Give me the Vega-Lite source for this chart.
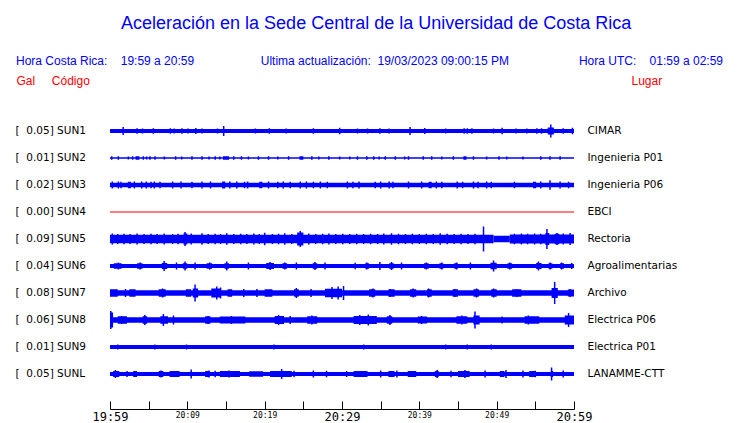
{
"$schema":"https://vega.github.io/schema/vega-lite/v6.json",
"width":464,"height":270,
"autosize":"none",
"padding":{"left":110,"top":117.5,"right":166,"bottom":35.5},
"background":"white",
"title":{"text":"\u200b\u00a0\u00a0\u00a0\u00a0\u00a0\u00a0\u00a0\u00a0\u00a0\u00a0\u00a0\u00a0\u00a0\u00a0\u00a0\u00a0\u00a0\u00a0\u00a0\u00a0\u00a0Aceleración en la Sede Central de la Universidad de Costa Rica",
"subtitle":"Hora Costa Rica:\u00a0\u00a0\u00a0\u00a019:59 a 20:59\u00a0\u00a0\u00a0\u00a0\u00a0\u00a0\u00a0\u00a0\u00a0\u00a0\u00a0\u00a0\u00a0\u00a0\u00a0\u00a0\u00a0\u00a0\u00a0\u00a0Ultima actualización:\u00a0\u00a019/03/2023 09:00:15 PM\u00a0\u00a0\u00a0\u00a0\u00a0\u00a0\u00a0\u00a0\u00a0\u00a0\u00a0\u00a0\u00a0\u00a0\u00a0\u00a0\u00a0\u00a0\u00a0\u00a0\u00a0Hora UTC:\u00a0\u00a0\u00a0\u00a001:59 a 02:59",
"anchor":"start","frame":"group","dx":-94,"offset":8,
"font":"Liberation Sans","fontSize":18,"fontWeight":"normal","color":"#0000ff",
"subtitleFont":"Liberation Sans","subtitleFontSize":12,"subtitleColor":"#0000ff","subtitlePadding":23},
"datasets":{
"bases":[
{"s":"SUN1","t0":0,"t1":60,"a":4},{"s":"SUN1","t0":56.6,"t1":57.4,"a":7},
{"s":"SUN2","t0":0,"t1":60,"a":1.5},{"s":"SUN2","t0":14.6,"t1":15.4,"a":3.5},{"s":"SUN2","t0":24.5,"t1":25.0,"a":3.5},{"s":"SUN2","t0":45.7,"t1":46.1,"a":3.5},{"s":"SUN2","t0":3.3,"t1":3.8,"a":3.5},
{"s":"SUN3","t0":0,"t1":60,"a":4.5},{"s":"SUN3","t0":2.3,"t1":2.7,"a":6.5},{"s":"SUN3","t0":14.5,"t1":14.9,"a":7},{"s":"SUN3","t0":19.3,"t1":19.7,"a":6.5},{"s":"SUN3","t0":41.2,"t1":41.6,"a":6.5},{"s":"SUN3","t0":54.7,"t1":55.1,"a":6.5},
{"s":"SUN4","t0":0,"t1":60,"a":1},
{"s":"SUN5","t0":0,"t1":49.6,"a":8.5},{"s":"SUN5","t0":49.6,"t1":51.7,"a":6.5},{"s":"SUN5","t0":51.7,"t1":60,"a":9},{"s":"SUN5","t0":24.2,"t1":25.0,"a":13},{"s":"SUN5","t0":9.5,"t1":10.0,"a":11},{"s":"SUN5","t0":56.3,"t1":56.8,"a":12},{"s":"SUN5","t0":57.5,"t1":58.1,"a":10.5},
{"s":"SUN6","t0":0,"t1":60,"a":4},{"s":"SUN6","t0":0.5,"t1":1.5,"a":5.5},{"s":"SUN6","t0":3.5,"t1":4.2,"a":5.5},{"s":"SUN6","t0":6.7,"t1":7.4,"a":6},{"s":"SUN6","t0":9.4,"t1":10,"a":5.5},{"s":"SUN6","t0":12.5,"t1":13.2,"a":5.5},{"s":"SUN6","t0":14.8,"t1":15.4,"a":5.5},{"s":"SUN6","t0":20.2,"t1":21.2,"a":6},{"s":"SUN6","t0":22.3,"t1":22.9,"a":5.5},{"s":"SUN6","t0":26.2,"t1":26.8,"a":5.5},{"s":"SUN6","t0":33,"t1":33.5,"a":5.5},{"s":"SUN6","t0":36.1,"t1":36.7,"a":5.5},{"s":"SUN6","t0":40.6,"t1":41.2,"a":5.5},{"s":"SUN6","t0":42.6,"t1":43.1,"a":5.5},{"s":"SUN6","t0":44.5,"t1":45,"a":5.5},{"s":"SUN6","t0":49.2,"t1":50,"a":6.5},{"s":"SUN6","t0":51.4,"t1":52,"a":5.5},{"s":"SUN6","t0":55.1,"t1":55.8,"a":6},{"s":"SUN6","t0":56.7,"t1":57.2,"a":5.5},{"s":"SUN6","t0":58.2,"t1":58.7,"a":5.5},
{"s":"SUN7","t0":0,"t1":60,"a":5.5},{"s":"SUN7","t0":0,"t1":1,"a":7.5},{"s":"SUN7","t0":2.5,"t1":3.3,"a":7.5},{"s":"SUN7","t0":6.3,"t1":7.2,"a":7.5},{"s":"SUN7","t0":9.8,"t1":10.5,"a":7.5},{"s":"SUN7","t0":10.7,"t1":11.4,"a":9},{"s":"SUN7","t0":13.1,"t1":14.3,"a":9},{"s":"SUN7","t0":15.2,"t1":15.8,"a":7.5},{"s":"SUN7","t0":20,"t1":21,"a":7.5},{"s":"SUN7","t0":23.8,"t1":24.4,"a":7.5},{"s":"SUN7","t0":27.8,"t1":30,"a":8.5},{"s":"SUN7","t0":33.5,"t1":34.3,"a":7.5},{"s":"SUN7","t0":36,"t1":36.8,"a":7.5},{"s":"SUN7","t0":38.8,"t1":39.6,"a":7.5},{"s":"SUN7","t0":41,"t1":41.6,"a":7.5},{"s":"SUN7","t0":44.3,"t1":45,"a":7.5},{"s":"SUN7","t0":47,"t1":47.7,"a":7.5},{"s":"SUN7","t0":49.3,"t1":50,"a":7.5},{"s":"SUN7","t0":52,"t1":53.2,"a":7.5},{"s":"SUN7","t0":57.1,"t1":57.9,"a":10},{"s":"SUN7","t0":59.2,"t1":60,"a":7},
{"s":"SUN8","t0":0,"t1":60,"a":5.5},{"s":"SUN8","t0":0,"t1":0.4,"a":15},{"s":"SUN8","t0":1,"t1":2.2,"a":7.5},{"s":"SUN8","t0":4.2,"t1":4.8,"a":7.5},{"s":"SUN8","t0":6.5,"t1":7.5,"a":7.5},{"s":"SUN8","t0":12.3,"t1":13,"a":7.5},{"s":"SUN8","t0":14.2,"t1":17.5,"a":7},{"s":"SUN8","t0":21.3,"t1":22.5,"a":8},{"s":"SUN8","t0":25.5,"t1":26.8,"a":7.5},{"s":"SUN8","t0":31.5,"t1":34.5,"a":8},{"s":"SUN8","t0":35.8,"t1":36.5,"a":7.5},{"s":"SUN8","t0":39.8,"t1":41,"a":7},{"s":"SUN8","t0":44.8,"t1":46.2,"a":7.5},{"s":"SUN8","t0":47,"t1":47.8,"a":9},{"s":"SUN8","t0":53.6,"t1":55.5,"a":7.5},{"s":"SUN8","t0":58.8,"t1":60,"a":9},
{"s":"SUN9","t0":0,"t1":60,"a":4},
{"s":"SUNL","t0":0,"t1":60,"a":4},{"s":"SUNL","t0":0.4,"t1":1.2,"a":6},{"s":"SUNL","t0":3,"t1":3.5,"a":6},{"s":"SUNL","t0":6.3,"t1":6.9,"a":6},{"s":"SUNL","t0":7.7,"t1":9,"a":6},{"s":"SUNL","t0":12.3,"t1":12.9,"a":6},{"s":"SUNL","t0":14.2,"t1":16.8,"a":6},{"s":"SUNL","t0":18,"t1":19.8,"a":5.5},{"s":"SUNL","t0":20.7,"t1":23.5,"a":6},{"s":"SUNL","t0":31.5,"t1":33.3,"a":6},{"s":"SUNL","t0":36,"t1":36.8,"a":6},{"s":"SUNL","t0":38.5,"t1":39.6,"a":6},{"s":"SUNL","t0":42,"t1":42.5,"a":6},{"s":"SUNL","t0":45,"t1":46.5,"a":6},{"s":"SUNL","t0":50.4,"t1":51,"a":6},{"s":"SUNL","t0":54.2,"t1":55,"a":6},{"s":"SUNL","t0":57,"t1":57.3,"a":6}
],
"spikes":[
{"s":"SUN1","t":1.7,"a":8},{"s":"SUN1","t":3.5,"a":5.5},{"s":"SUN1","t":4.2,"a":5},{"s":"SUN1","t":5.6,"a":5.5},{"s":"SUN1","t":7.8,"a":5.5},{"s":"SUN1","t":8.3,"a":5},{"s":"SUN1","t":9.3,"a":5.5},{"s":"SUN1","t":10.1,"a":5},{"s":"SUN1","t":11.1,"a":6},{"s":"SUN1","t":11.9,"a":5},{"s":"SUN1","t":13.9,"a":5},{"s":"SUN1","t":14.7,"a":10},{"s":"SUN1","t":18.8,"a":5},{"s":"SUN1","t":20.6,"a":5.5},{"s":"SUN1","t":22.8,"a":5},{"s":"SUN1","t":26.3,"a":5.5},{"s":"SUN1","t":29.7,"a":6.5},{"s":"SUN1","t":32.0,"a":5},{"s":"SUN1","t":33.3,"a":5},{"s":"SUN1","t":34.9,"a":5.5},{"s":"SUN1","t":36.1,"a":5},{"s":"SUN1","t":38.8,"a":8},{"s":"SUN1","t":40.7,"a":6},{"s":"SUN1","t":43.4,"a":5},{"s":"SUN1","t":45.8,"a":5.5},{"s":"SUN1","t":46.2,"a":5.5},{"s":"SUN1","t":46.8,"a":5.5},{"s":"SUN1","t":49.6,"a":5},{"s":"SUN1","t":50.7,"a":6.5},{"s":"SUN1","t":52.5,"a":5},{"s":"SUN1","t":53.9,"a":5},{"s":"SUN1","t":55.2,"a":5.5},{"s":"SUN1","t":55.8,"a":5.5},{"s":"SUN1","t":57.0,"a":13},{"s":"SUN1","t":58.6,"a":5.5},{"s":"SUN1","t":59.8,"a":6.5},
{"s":"SUN2","t":0.22,"a":3.5},{"s":"SUN2","t":1.08,"a":3.5},{"s":"SUN2","t":2.37,"a":3},{"s":"SUN2","t":2.93,"a":3.5},{"s":"SUN2","t":4.31,"a":3.5},{"s":"SUN2","t":4.74,"a":3},{"s":"SUN2","t":5.17,"a":3.5},{"s":"SUN2","t":5.82,"a":3.5},{"s":"SUN2","t":7.03,"a":3},{"s":"SUN2","t":8.49,"a":3.5},{"s":"SUN2","t":9.27,"a":3},{"s":"SUN2","t":10.6,"a":3.5},{"s":"SUN2","t":11.9,"a":3.5},{"s":"SUN2","t":12.8,"a":3},{"s":"SUN2","t":13.6,"a":3.5},{"s":"SUN2","t":14.2,"a":3},{"s":"SUN2","t":16.0,"a":3.5},{"s":"SUN2","t":17.0,"a":3.5},{"s":"SUN2","t":17.9,"a":3},{"s":"SUN2","t":19.2,"a":3.5},{"s":"SUN2","t":20.5,"a":3.5},{"s":"SUN2","t":21.7,"a":3},{"s":"SUN2","t":23.1,"a":3.5},{"s":"SUN2","t":26.1,"a":3.5},{"s":"SUN2","t":27.0,"a":3},{"s":"SUN2","t":28.3,"a":3.5},{"s":"SUN2","t":29.7,"a":3},{"s":"SUN2","t":31.0,"a":3},{"s":"SUN2","t":32.0,"a":3.5},{"s":"SUN2","t":33.2,"a":3.5},{"s":"SUN2","t":34.1,"a":3.5},{"s":"SUN2","t":34.8,"a":3},{"s":"SUN2","t":35.6,"a":3.5},{"s":"SUN2","t":36.9,"a":3.5},{"s":"SUN2","t":38.1,"a":3},{"s":"SUN2","t":38.6,"a":3.5},{"s":"SUN2","t":40.5,"a":3.5},{"s":"SUN2","t":41.6,"a":3.5},{"s":"SUN2","t":42.9,"a":3},{"s":"SUN2","t":44.4,"a":3.5},{"s":"SUN2","t":47.0,"a":3.5},{"s":"SUN2","t":48.7,"a":3},{"s":"SUN2","t":50.3,"a":3.5},{"s":"SUN2","t":51.3,"a":3},{"s":"SUN2","t":53.4,"a":3},{"s":"SUN2","t":55.7,"a":3.5},{"s":"SUN2","t":56.9,"a":3.5},{"s":"SUN2","t":58.2,"a":3.5},
{"s":"SUN3","t":0.3,"a":7},{"s":"SUN3","t":1.08,"a":7},{"s":"SUN3","t":1.42,"a":6.5},{"s":"SUN3","t":3.15,"a":7},{"s":"SUN3","t":4.1,"a":7},{"s":"SUN3","t":4.7,"a":7},{"s":"SUN3","t":5.3,"a":6.5},{"s":"SUN3","t":5.73,"a":7},{"s":"SUN3","t":6.47,"a":6.5},{"s":"SUN3","t":8.1,"a":7},{"s":"SUN3","t":9.18,"a":7},{"s":"SUN3","t":10.6,"a":6.5},{"s":"SUN3","t":11.9,"a":7},{"s":"SUN3","t":13.0,"a":7},{"s":"SUN3","t":15.5,"a":7},{"s":"SUN3","t":16.4,"a":7},{"s":"SUN3","t":17.4,"a":6.5},{"s":"SUN3","t":17.8,"a":7},{"s":"SUN3","t":20.5,"a":7},{"s":"SUN3","t":21.7,"a":6.5},{"s":"SUN3","t":22.4,"a":7},{"s":"SUN3","t":23.3,"a":6.5},{"s":"SUN3","t":24.6,"a":7},{"s":"SUN3","t":25.4,"a":7},{"s":"SUN3","t":26.3,"a":6.5},{"s":"SUN3","t":27.2,"a":7},{"s":"SUN3","t":28.1,"a":6.5},{"s":"SUN3","t":30.7,"a":7},{"s":"SUN3","t":31.4,"a":6.5},{"s":"SUN3","t":32.2,"a":7},{"s":"SUN3","t":34.3,"a":6.5},{"s":"SUN3","t":35.0,"a":7},{"s":"SUN3","t":36.1,"a":7},{"s":"SUN3","t":36.6,"a":6.5},{"s":"SUN3","t":38.6,"a":7},{"s":"SUN3","t":40.3,"a":7},{"s":"SUN3","t":42.2,"a":7},{"s":"SUN3","t":42.9,"a":6.5},{"s":"SUN3","t":44.9,"a":7},{"s":"SUN3","t":45.6,"a":6.5},{"s":"SUN3","t":47.0,"a":7},{"s":"SUN3","t":47.6,"a":6.5},{"s":"SUN3","t":48.7,"a":7},{"s":"SUN3","t":49.3,"a":6.5},{"s":"SUN3","t":52.3,"a":6.5},{"s":"SUN3","t":55.7,"a":7},{"s":"SUN3","t":56.9,"a":9.5},{"s":"SUN3","t":58.2,"a":7},{"s":"SUN3","t":59.3,"a":6.5},
{"s":"SUN5","t":0.3,"a":11},{"s":"SUN5","t":1.0,"a":10},{"s":"SUN5","t":1.8,"a":10.5},{"s":"SUN5","t":2.6,"a":10},{"s":"SUN5","t":3.5,"a":11},{"s":"SUN5","t":4.4,"a":10},{"s":"SUN5","t":5.3,"a":10.5},{"s":"SUN5","t":6.1,"a":10},{"s":"SUN5","t":7.0,"a":11},{"s":"SUN5","t":8.1,"a":10},{"s":"SUN5","t":8.8,"a":10.5},{"s":"SUN5","t":9.7,"a":14},{"s":"SUN5","t":10.5,"a":11},{"s":"SUN5","t":11.9,"a":11.5},{"s":"SUN5","t":12.7,"a":10},{"s":"SUN5","t":13.6,"a":10.5},{"s":"SUN5","t":14.3,"a":10},{"s":"SUN5","t":15.1,"a":11.5},{"s":"SUN5","t":16.0,"a":10},{"s":"SUN5","t":16.9,"a":10.5},{"s":"SUN5","t":17.7,"a":10},{"s":"SUN5","t":18.6,"a":11},{"s":"SUN5","t":19.3,"a":10},{"s":"SUN5","t":20.0,"a":12.5},{"s":"SUN5","t":21.0,"a":10},{"s":"SUN5","t":21.8,"a":10.5},{"s":"SUN5","t":22.6,"a":11.5},{"s":"SUN5","t":23.5,"a":10},{"s":"SUN5","t":24.6,"a":16},{"s":"SUN5","t":25.7,"a":11},{"s":"SUN5","t":26.6,"a":10},{"s":"SUN5","t":27.5,"a":10.5},{"s":"SUN5","t":28.3,"a":11},{"s":"SUN5","t":29.2,"a":10},{"s":"SUN5","t":30.1,"a":10.5},{"s":"SUN5","t":31.0,"a":10},{"s":"SUN5","t":31.9,"a":10.5},{"s":"SUN5","t":32.8,"a":10},{"s":"SUN5","t":33.7,"a":10.5},{"s":"SUN5","t":34.6,"a":10},{"s":"SUN5","t":35.4,"a":11},{"s":"SUN5","t":36.4,"a":11.5},{"s":"SUN5","t":37.3,"a":10.5},{"s":"SUN5","t":38.2,"a":10},{"s":"SUN5","t":39.1,"a":10.5},{"s":"SUN5","t":40.0,"a":10},{"s":"SUN5","t":40.9,"a":10.5},{"s":"SUN5","t":41.8,"a":10},{"s":"SUN5","t":42.7,"a":11.5},{"s":"SUN5","t":43.6,"a":10.5},{"s":"SUN5","t":44.5,"a":10},{"s":"SUN5","t":45.4,"a":10.5},{"s":"SUN5","t":46.3,"a":10},{"s":"SUN5","t":47.2,"a":10.5},{"s":"SUN5","t":48.3,"a":25},{"s":"SUN5","t":52.3,"a":10.5},{"s":"SUN5","t":53.2,"a":11},{"s":"SUN5","t":54.0,"a":10.5},{"s":"SUN5","t":54.9,"a":11},{"s":"SUN5","t":55.7,"a":10.5},{"s":"SUN5","t":56.5,"a":20},{"s":"SUN5","t":57.8,"a":12},{"s":"SUN5","t":58.6,"a":11},{"s":"SUN5","t":59.5,"a":12},
{"s":"SUN6","t":1.08,"a":7},{"s":"SUN6","t":3.88,"a":7},{"s":"SUN6","t":7.0,"a":10},{"s":"SUN6","t":8.6,"a":7},{"s":"SUN6","t":9.7,"a":9},{"s":"SUN6","t":11.0,"a":7},{"s":"SUN6","t":12.9,"a":7},{"s":"SUN6","t":15.1,"a":9},{"s":"SUN6","t":17.9,"a":7},{"s":"SUN6","t":20.7,"a":8},{"s":"SUN6","t":22.6,"a":7},{"s":"SUN6","t":24.1,"a":7},{"s":"SUN6","t":26.5,"a":8},{"s":"SUN6","t":27.8,"a":7},{"s":"SUN6","t":31.7,"a":6.5},{"s":"SUN6","t":33.2,"a":7},{"s":"SUN6","t":34.9,"a":8},{"s":"SUN6","t":36.4,"a":8},{"s":"SUN6","t":37.7,"a":7},{"s":"SUN6","t":40.9,"a":7},{"s":"SUN6","t":42.9,"a":7},{"s":"SUN6","t":44.8,"a":7},{"s":"SUN6","t":46.6,"a":7},{"s":"SUN6","t":49.6,"a":11},{"s":"SUN6","t":51.7,"a":7},{"s":"SUN6","t":55.4,"a":9},{"s":"SUN6","t":56.9,"a":7},{"s":"SUN6","t":58.4,"a":7},{"s":"SUN6","t":59.7,"a":6},
{"s":"SUN7","t":2.0,"a":8},{"s":"SUN7","t":6.8,"a":9},{"s":"SUN7","t":11.0,"a":17},{"s":"SUN7","t":13.8,"a":13},{"s":"SUN7","t":14.3,"a":11},{"s":"SUN7","t":17.3,"a":8},{"s":"SUN7","t":19.0,"a":8},{"s":"SUN7","t":24.1,"a":10},{"s":"SUN7","t":26.0,"a":8},{"s":"SUN7","t":28.7,"a":12},{"s":"SUN7","t":29.5,"a":13},{"s":"SUN7","t":30.2,"a":14},{"s":"SUN7","t":34.0,"a":9},{"s":"SUN7","t":36.2,"a":8},{"s":"SUN7","t":39.2,"a":9},{"s":"SUN7","t":41.2,"a":9},{"s":"SUN7","t":44.6,"a":8},{"s":"SUN7","t":47.4,"a":9},{"s":"SUN7","t":49.6,"a":9},{"s":"SUN7","t":52.6,"a":8},{"s":"SUN7","t":57.5,"a":22},{"s":"SUN7","t":59.5,"a":8},
{"s":"SUN8","t":0.1,"a":18},{"s":"SUN8","t":1.5,"a":8},{"s":"SUN8","t":4.5,"a":10},{"s":"SUN8","t":6.9,"a":12},{"s":"SUN8","t":8.2,"a":9},{"s":"SUN8","t":12.7,"a":8},{"s":"SUN8","t":15.7,"a":8},{"s":"SUN8","t":21.8,"a":10},{"s":"SUN8","t":23.3,"a":8},{"s":"SUN8","t":26.1,"a":9},{"s":"SUN8","t":32.3,"a":10},{"s":"SUN8","t":33.4,"a":11},{"s":"SUN8","t":36.2,"a":10},{"s":"SUN8","t":40.3,"a":8},{"s":"SUN8","t":45.5,"a":9},{"s":"SUN8","t":47.2,"a":17},{"s":"SUN8","t":50.7,"a":7},{"s":"SUN8","t":54.1,"a":9},{"s":"SUN8","t":59.3,"a":14},
{"s":"SUN9","t":1.0,"a":5},{"s":"SUN9","t":5.8,"a":5},{"s":"SUN9","t":9.9,"a":5},{"s":"SUN9","t":21.2,"a":5},{"s":"SUN9","t":32.8,"a":5},{"s":"SUN9","t":43.4,"a":5},{"s":"SUN9","t":46.2,"a":5},{"s":"SUN9","t":49.3,"a":5},
{"s":"SUNL","t":0.7,"a":8},{"s":"SUNL","t":2.2,"a":6},{"s":"SUNL","t":6.6,"a":7},{"s":"SUNL","t":10.5,"a":9},{"s":"SUNL","t":12.8,"a":7},{"s":"SUNL","t":13.6,"a":6.5},{"s":"SUNL","t":15.4,"a":7},{"s":"SUNL","t":22.2,"a":10},{"s":"SUNL","t":23.8,"a":6.5},{"s":"SUNL","t":26.3,"a":7},{"s":"SUNL","t":28.0,"a":6.5},{"s":"SUNL","t":30.6,"a":6},{"s":"SUNL","t":35.0,"a":7},{"s":"SUNL","t":37.1,"a":7},{"s":"SUNL","t":42.3,"a":8},{"s":"SUNL","t":44.1,"a":6.5},{"s":"SUNL","t":45.9,"a":8},{"s":"SUNL","t":48.5,"a":7},{"s":"SUNL","t":51.2,"a":8},{"s":"SUNL","t":53.4,"a":7},{"s":"SUNL","t":55.0,"a":6.5},{"s":"SUNL","t":57.1,"a":13},{"s":"SUNL","t":58.6,"a":7}
]},
"layer":[
{"data":{"name":"bases"},
"mark":{"type":"bar","orient":"horizontal"},
"encoding":{
"x":{"field":"t0","type":"quantitative","scale":{"domain":[0,60],"nice":false,"zero":false},
"axis":{"orient":"bottom","offset":13.5,"values":[0,5,10,15,20,25,30,35,40,45,50,55,60],"tickSize":8,"tickColor":"black","domain":false,"labels":false,"grid":false,"title":null}},
"x2":{"field":"t1"},
"y":{"field":"s","type":"nominal","scale":{"domain":["SUN1","SUN2","SUN3","SUN4","SUN5","SUN6","SUN7","SUN8","SUN9","SUNL"],"paddingInner":0,"paddingOuter":0},
"axis":{"orient":"left","ticks":false,"domain":false,"grid":false,"labelAlign":"left","labelPadding":95,"labelFont":"DejaVu Sans","labelFontSize":10.5,"labelColor":"black",
"labelExpr":"'[\u00a0\u00a0' + {'SUN1':'0.05','SUN2':'0.01','SUN3':'0.02','SUN4':'0.00','SUN5':'0.09','SUN6':'0.04','SUN7':'0.08','SUN8':'0.06','SUN9':'0.01','SUNL':'0.05'}[datum.value] + ']\u00a0' + datum.value",
"title":"Gal\u00a0\u00a0\u00a0\u00a0\u00a0Código","titleAngle":0,"titleAlign":"left","titleBaseline":"alphabetic","titleX":-94,"titleY":-33,"titleColor":"#ff0000","titleFont":"Liberation Sans","titleFontSize":12,"titleFontWeight":"normal"}},
"size":{"field":"a","type":"quantitative","scale":{"type":"linear","domain":[0,30],"range":[0,30]},"legend":null},
"color":{"condition":{"test":"datum.s === 'SUN4'","value":"#ff0000"},"value":"#0000ff"}
}},
{"data":{"name":"spikes"},
"mark":{"type":"tick","thickness":1.5,"orient":"vertical","opacity":1},
"encoding":{
"x":{"field":"t","type":"quantitative",
"axis":{"orient":"bottom","offset":21.5,"values":[0,5,10,15,20,25,30,35,40,45,50,55,60],"ticks":false,"domain":true,"domainColor":"black","grid":false,"title":null,
"labelExpr":"datum.value % 10 === 0 ? timeFormat(datetime(2023, 2, 19, 19, 59 + datum.value), '%H:%M') : ''",
"labelFont":"DejaVu Sans Mono","labelFontSize":{"condition":{"test":"datum.value % 30 === 0","value":12},"value":8},
"labelPadding":2,"labelColor":"black","labelFlush":false,"labelOverlap":false,"labelBound":false}},
"y":{"field":"s","type":"nominal",
"axis":{"orient":"right","ticks":false,"domain":false,"grid":false,"labelPadding":13,"labelFont":"DejaVu Sans","labelFontSize":10.5,"labelColor":"black",
"labelExpr":"{'SUN1':'CIMAR','SUN2':'Ingenieria P01','SUN3':'Ingenieria P06','SUN4':'EBCI','SUN5':'Rectoria','SUN6':'Agroalimentarias','SUN7':'Archivo','SUN8':'Electrica P06','SUN9':'Electrica P01','SUNL':'LANAMME-CTT'}[datum.value]",
"title":"Lugar","titleAngle":0,"titleAlign":"left","titleBaseline":"alphabetic","titleX":57,"titleY":-33,"titleColor":"#ff0000","titleFont":"Liberation Sans","titleFontSize":12,"titleFontWeight":"normal"}},
"size":{"field":"a","type":"quantitative"},
"color":{"value":"#0000ff"}
}}
],
"resolve":{"axis":{"y":"independent","x":"independent"}},
"config":{"view":{"stroke":null}}
}
